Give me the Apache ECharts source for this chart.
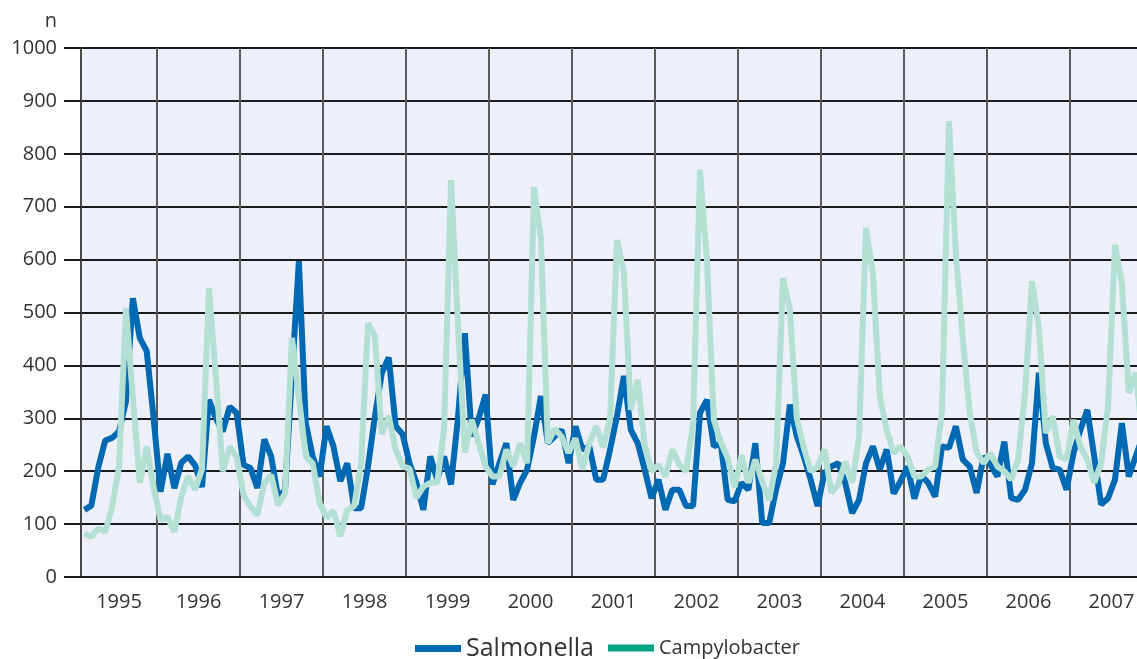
<!DOCTYPE html>
<html>
<head>
<meta charset="utf-8">
<script src="https://cdn.jsdelivr.net/npm/echarts@6/dist/echarts.min.js"></script>
<style>
  html, body { margin: 0; padding: 0; background: #ffffff; }
  #chart { width: 1137px; height: 659px; }
</style>
</head>
<body>
<div id="chart"></div>
<script>
// Monthly counts, February 1995 to December 2007 (one row per year).
const firstYear = 1995;
const lastYear = 2007;

const salmonella = [
  /* 1995 Feb-Dec */ 127, 135, 207, 258, 263, 275, 332, 527, 452, 427, 300,
  /* 1996 */ 161, 233, 168, 216, 228, 211, 170, 335, 300, 275, 322, 310,
  /* 1997 */ 212, 206, 168, 260, 228, 150, 165, 380, 597, 291, 228, 190,
  /* 1998 */ 285, 247, 181, 215, 130, 130, 209, 304, 386, 415, 285, 270,
  /* 1999 */ 215, 178, 127, 228, 184, 228, 175, 300, 461, 266, 300, 345,
  /* 2000 */ 175, 215, 253, 146, 178, 203, 266, 342, 253, 266, 278, 215,
  /* 2001 */ 285, 241, 247, 184, 184, 241, 304, 380, 278, 253, 203, 149,
  /* 2002 */ 184, 127, 165, 165, 134, 134, 310, 335, 247, 253, 146, 143,
  /* 2003 */ 178, 165, 253, 102, 102, 165, 215, 326, 266, 228, 184, 134,
  /* 2004 */ 197, 209, 215, 178, 121, 146, 215, 247, 203, 241, 158, 181,
  /* 2005 */ 209, 148, 192, 178, 152, 247, 244, 285, 222, 209, 159, 228,
  /* 2006 */ 212, 190, 256, 149, 146, 165, 215, 386, 253, 206, 203, 165,
  /* 2007 */ 234, 278, 316, 228, 137, 149, 184, 291, 190, 228, 265, 240
];

const campylobacter = [
  /* 1995 Feb-Dec */ 82, 76, 92, 85, 133, 209, 508, 340, 178, 246, 170,
  /* 1996 */ 108, 114, 85, 152, 190, 165, 205, 546, 380, 200, 246, 228,
  /* 1997 */ 155, 133, 117, 177, 193, 136, 158, 452, 340, 228, 215, 140,
  /* 1998 */ 112, 125, 77, 127, 134, 215, 480, 455, 270, 304, 241, 209,
  /* 1999 */ 205, 150, 171, 178, 178, 280, 750, 480, 235, 297, 253, 209,
  /* 2000 */ 190, 190, 241, 209, 253, 215, 737, 640, 253, 280, 265, 235,
  /* 2001 */ 262, 203, 253, 285, 245, 300, 637, 575, 316, 373, 250, 200,
  /* 2002 */ 212, 190, 241, 212, 200, 290, 770, 600, 297, 255, 225, 170,
  /* 2003 */ 230, 178, 222, 180, 145, 215, 565, 505, 300, 245, 200, 208,
  /* 2004 */ 241, 159, 175, 218, 178, 265, 660, 575, 341, 278, 234, 247,
  /* 2005 */ 228, 190, 190, 203, 209, 316, 862, 610, 450, 310, 236, 215,
  /* 2006 */ 234, 209, 200, 184, 222, 348, 559, 472, 272, 304, 228, 222,
  /* 2007 */ 297, 247, 222, 178, 215, 323, 628, 555, 348, 386, 260, 230
];

const yTicks = { min: 0, max: 1000, step: 100 };

// Month categories "YYYY-MM", starting at February of the first year.
const months = [];
for (let y = firstYear; y <= lastYear; y++) {
  for (let m = 1; m <= 12; m++) {
    if (y === firstYear && m === 1) continue;
    months.push(y + '-' + (m < 10 ? '0' + m : '' + m));
  }
}

const monthOf = v => v.slice(5, 7);
const yearOf = v => v.slice(0, 4);
// Year separators sit at the start of each January band (plus the left edge).
const isYearStart = (i, v) => i === 0 || monthOf(v) === '01';

const FONT = '"Open Sans", "DejaVu Sans", sans-serif';

const chart = echarts.init(document.getElementById('chart'), null, { renderer: 'canvas' });

chart.setOption({
  animation: false,
  backgroundColor: '#ffffff',
  textStyle: { fontFamily: FONT },
  // The plot runs on past the right edge of the page, so the last months are cut off.
  grid: {
    left: 81, width: 1072, top: 48, bottom: 82,
    outerBoundsMode: 'none',
    containLabel: false,
    show: true, backgroundColor: '#edf0f9', borderWidth: 0
  },
  graphic: [{
    type: 'text',
    style: { text: 'n', x: 57, y: 21, align: 'right', verticalAlign: 'middle',
             font: '20px ' + FONT, fill: '#333333' }
  }],
  legend: [{
    data: [{ name: 'Salmonella', itemStyle: { borderWidth: 0 } }],
    left: 415, top: 636, padding: 0,
    icon: 'rect', itemWidth: 46, itemHeight: 7,
    textStyle: { fontSize: 25, color: '#333333', fontFamily: FONT }
  }, {
    data: [{ name: 'Campylobacter', itemStyle: { color: '#00a383', borderWidth: 0 } }],
    left: 608, top: 638, padding: 0,
    icon: 'rect', itemWidth: 46, itemHeight: 7,
    textStyle: { fontSize: 20, color: '#333333', fontFamily: FONT }
  }],
  xAxis: {
    type: 'category',
    data: months,
    boundaryGap: true,
    axisLine: { lineStyle: { color: '#1a1a1a', width: 2 } },
    axisTick: { interval: isYearStart, length: 13, lineStyle: { color: '#333333', width: 1.5 } },
    splitLine: { show: true, interval: isYearStart, lineStyle: { color: '#5c5c5c', width: 2 } },
    axisLabel: {
      interval: (i, v) => monthOf(v) === '07',
      margin: 15,
      fontSize: 20,
      color: '#333333',
      formatter: v => yearOf(v) === String(firstYear) ? yearOf(v) : '{s|' + yearOf(v) + '}',
      rich: { s: { padding: [0, 7, 0, 0], fontSize: 20, color: '#333333', fontFamily: FONT } }
    }
  },
  yAxis: {
    type: 'value',
    min: yTicks.min, max: yTicks.max, interval: yTicks.step,
    axisLine: { show: true, lineStyle: { color: '#4a4a4a', width: 2 } },
    axisTick: { show: true, inside: false, length: 17, lineStyle: { color: '#1a1a1a', width: 2 } },
    axisLabel: { margin: 24, fontSize: 20, color: '#333333', formatter: v => String(v) },
    splitLine: { show: true, lineStyle: { color: '#1a1a1a', width: 2 } }
  },
  series: [{
    name: 'Salmonella',
    type: 'line',
    data: salmonella,
    showSymbol: false, symbol: 'none',
    lineStyle: { color: '#0069b4', width: 6 },
    itemStyle: { color: '#0069b4' }
  }, {
    name: 'Campylobacter',
    type: 'line',
    data: campylobacter,
    showSymbol: false, symbol: 'none',
    lineStyle: { color: '#b3e0d3', width: 6 },
    itemStyle: { color: '#b3e0d3' }
  }]
});
</script>
</body>
</html>
